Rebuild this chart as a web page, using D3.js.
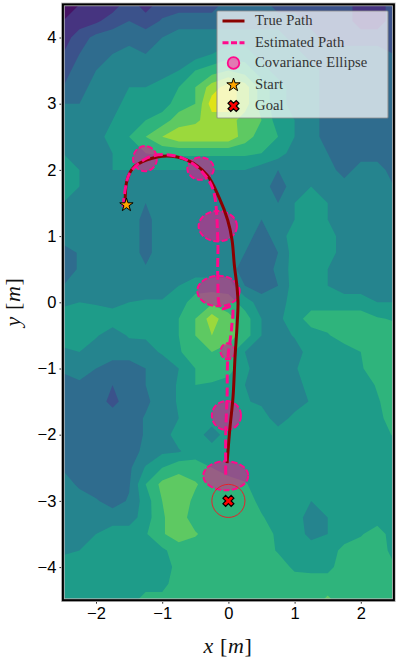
<!DOCTYPE html>
<html>
<head>
<meta charset="utf-8">
<script src="https://cdn.jsdelivr.net/npm/d3@7"></script>
<style>
  html, body { margin: 0; padding: 0; background: #fff; }
  svg { display: block; }
</style>
</head>
<body>
<svg id="chart" width="399" height="659"></svg>
<script>
// ---- data ----
const xTicks = [-2, -1, 0, 1, 2];
const yTicks = [-4, -3, -2, -1, 0, 1, 2, 3, 4];

// terrain field, 0.25 m grid, first row is y = 4.5, first column is x = -2.5
const fieldRows = [
  [0,0.5,1,1,2,1,2,2,2,2,3,3,3,2,2,2,2,2,1,1,2],
  [0.5,1,1.3,2,2.5,2,2.6,3,3,3,3,3,3,3,3,2,2,2,1,1,2],
  [1,2,2.8,3,3,3,3.5,4,4,4,4,4,4,4,3,3,2,2,2,2,2],
  [1.5,2.5,3,3.5,4,3.5,4,4,4,4.5,5,5,4,4,4,3,3,3,3,3,2.5],
  [2,3,3.5,4,4,4,4,4.5,5.5,6,6.5,6,5,4,4,4,3,3,3,3,3],
  [2.5,3,4,4,4.5,4.5,5,5.5,6.5,8,9,8,6,5,4,4,3,3,3,3,3],
  [3.5,3.5,4,4,5,5,5,6,6.5,9,9,8,6,5,4,4,3,3,3,3,3],
  [4,4,4,4.5,5,5.5,6,7,7.3,8,8,7,6.5,5,4.5,4,3,3,3,3,3],
  [4,4,4,5,5.5,6.5,7.5,8.2,8.2,8.2,8.2,7,6,5.5,4.5,4,3,3,3,3,3],
  [4.5,4,4,4.5,5,5.5,5.7,5.7,5.7,5.7,5.7,5.7,5.5,5,4,4,3.5,3,3,3,3],
  [5,4.5,4,4.5,4.5,4.5,4.5,4.5,4.5,4.5,4.5,4.5,4,3.5,4,4,4,3,4,4,3],
  [5,4.5,4,4,4,4,4,4,4,4,4,4,4,3,4,4.5,4,4,4,4,3.5],
  [4.5,4,4,4,4,3.5,4,4,4,4,4,4,4,3.5,4.5,5,4.5,4,4,4,4],
  [4,4,4,4,4,3.2,4,4,4,4,4,4,3.5,4,4.5,5,4.5,4,4,4,4],
  [4,4,4,4,4,3.2,4,4,4,4,4,4,3,4,5,5,5,4,4,4,4],
  [3,3.6,4,4,4,3.2,4,4,4,4,4,3.5,3,3.5,5,5,5,4,4,4,4],
  [3,3.6,4,4,4,3.6,4,4,4,4,4,3,3,3.7,5,5,4.5,4,4,4,4],
  [3.5,4,4,4,4,4,4,4.5,5,5,5,3.5,3,3.5,5,5,4.5,4,4,4,4],
  [4.3,4.5,4.4,4.2,4.5,4.6,4.6,5,6,6.3,6,5,4,4,5,5,5,5,5,4.5,4.5],
  [5,5,5,5,5,5,5,5.5,6.5,8,6.8,6,4.5,4.3,5,6,6,6,6,5.6,5.4],
  [5,5,4.6,4,4.6,4.6,5,5.5,6.5,7.5,7,6,4.5,4,4.6,5,5.4,6,6,6,6],
  [4.3,4.5,4,4,4,4.2,4.6,5.4,6,6.5,6,4.5,4,4,4,5,5,5,5.5,6,6],
  [3.7,4,3.5,3,3,3.5,4,4.5,5.5,6,6,4.7,4,4,4.4,5,5,5,5.4,6,6],
  [3,3.3,3,2.5,3,3.5,4,4.6,5.5,5.4,5,4.5,4,4,4.2,4.8,5,5,5,5.6,6],
  [3,3,3,2.2,3,3.3,4,4.6,5,5,5,4.6,4.3,4,4,4.6,5,5,5,5.4,6],
  [3,3,3,3,3,3.6,4,4.5,5,5,5,5,5,4,4.8,5,5,5,5,5.2,6],
  [3,3,3,3,3,3.6,4,5,5,4,5,5,5,5,5,5,5,5,5,5,5.6],
  [3,3,3,3,3,3.8,4.3,4.4,5,5,5,5,5,5,5,5,5,5,5,5,5],
  [3.4,3,3,3,3.3,4.6,5.5,6.2,6,5.5,5,5,5,5,5,5,5,5,5,5,5],
  [4,3.3,3,3,3.4,5.5,6.8,7,6.6,6,6,5.6,5,5,5,5,5,5,5,5,5],
  [4,4,3.6,3.1,3.6,5,6.5,7,6.3,6,6,6,5.2,5,5,4.5,5,5,5,5,5],
  [4,4,4,4,4,5,6.4,7,6,6,6,6,5.6,5,5,4,4.5,5,5,5,5],
  [4,4,4.5,5,5,5.4,6.4,7,6.6,6,6,6,6,5.3,5,4.2,4.5,5,5.4,6,5],
  [4.3,4.5,5,5,5,5,5.3,6,6,6,6,6,6,5.4,5,5,5,5.8,6,6,5.2],
  [5,5,5,5,5,5,5.2,5.7,6,6,6,6,6,6,5.3,5.2,5.2,6,6,6,5.6],
  [5,5,5,5,5,5,5.2,6,6,6,6,6,6,6,6,6,6,6,6,6,6],
  [5,5,5,5,5,6,5.8,6,6,6,6,6,6,6,6,6,6.7,6,6,6,6]
];

const trueX = [-1.56,-1.53,-1.44,-1.23,-0.93,-0.63,-0.32,-0.14,-0.01,0.055,0.09,0.13,0.145,0.13,0.10,0.07,0.02,-0.02];
const trueY = [1.55,1.85,2.03,2.15,2.21,2.15,1.92,1.58,1.24,0.94,0.56,0.23,-0.01,-0.37,-0.83,-1.43,-1.93,-2.43];

const estX = [-1.59,-1.56,-1.49,-1.23,-0.93,-0.63,-0.38,-0.23,-0.16,-0.16,-0.11,0.05,0.05,-0.01,-0.02,-0.04,-0.04];
const estY = [1.44,1.70,1.95,2.18,2.23,2.15,1.95,1.70,0.94,0.38,-0.09,-0.07,-0.37,-0.87,-1.43,-1.97,-2.64];

// covariance ellipses: centre and half widths in metres
const ellipseX = [-1.26,-0.42,-0.16,-0.15,-0.01,-0.03,-0.04];
const ellipseY = [2.17,2.02,1.15,0.17,-0.74,-1.71,-2.62];
const ellipseRx = [0.18,0.20,0.29,0.32,0.11,0.22,0.34];
const ellipseRy = [0.19,0.17,0.23,0.23,0.12,0.22,0.22];

const startPoint = [-1.54, 1.47];
const goalPoint = [0, -3];
const goalRadius = 0.25;

const legendLabels = ["True Path", "Estimated Path", "Covariance Ellipse", "Start", "Goal"];

// ---- layout ----
const plot = { left: 62.9, right: 393.9, top: 4.4, bottom: 600.2 };
const TRUE_COLOR = "#8b0000";
const EST_COLOR = "#ff0a8c";
const SERIF = "'Liberation Serif', serif";
const SANS = "'Liberation Sans', sans-serif";

const svg = d3.select("#chart");

const x = d3.scaleLinear().domain([-2.5, 2.5]).range([plot.left, plot.right]);
const y = d3.scaleLinear().domain([-4.5, 4.5]).range([plot.bottom, plot.top]);

svg.append("clipPath").attr("id", "plot-clip")
  .append("rect")
  .attr("x", plot.left)
  .attr("y", plot.top)
  .attr("width", plot.right - plot.left)
  .attr("height", plot.bottom - plot.top);

const g = svg.append("g").attr("clip-path", "url(#plot-clip)");

// ---- filled contours ----
const nCols = fieldRows[0].length;
const nRows = fieldRows.length;
const thresholds = [-1, 0.5, 1.5, 2.5, 3.5, 4.5, 5.5, 6.5, 7.5, 8.5];

// d3.contours puts grid value i at coordinate i + 0.5
const colToX = d3.scaleLinear().domain([0.5, nCols - 0.5]).range([-2.5, 2.5]);
const rowToY = d3.scaleLinear().domain([0.5, nRows - 0.5]).range([4.5, -4.5]);

const contours = d3.contours()
  .size([nCols, nRows])
  .smooth(true)
  .thresholds(thresholds)(fieldRows.flat());

const contourPath = d3.geoPath(d3.geoTransform({
  point(cx, cy) {
    this.stream.point(x(colToX(cx)), y(rowToY(cy)));
  }
}));

g.selectAll("path.band")
  .data(contours)
  .enter()
  .append("path")
  .attr("class", "band")
  .attr("d", contourPath)
  .attr("fill", (d, i) => d3.interpolateViridis((i + 0.5) / 10));

// ---- ellipses ----
g.selectAll("ellipse.cov")
  .data(ellipseX)
  .enter()
  .append("ellipse")
  .attr("class", "cov")
  .attr("cx", d => x(d))
  .attr("cy", (d, i) => y(ellipseY[i]))
  .attr("rx", (d, i) => x(ellipseRx[i]) - x(0))
  .attr("ry", (d, i) => y(0) - y(ellipseRy[i]))
  .attr("fill", EST_COLOR)
  .attr("fill-opacity", 0.5)
  .attr("stroke", EST_COLOR)
  .attr("stroke-width", 2)
  .attr("stroke-dasharray", "6,2.5");

// ---- paths ----
const line = d3.line()
  .x(d => x(d[0]))
  .y(d => y(d[1]))
  .curve(d3.curveCatmullRom.alpha(0.5));

g.append("path")
  .datum(d3.zip(trueX, trueY))
  .attr("fill", "none")
  .attr("stroke", TRUE_COLOR)
  .attr("stroke-width", 3)
  .attr("d", line);

g.append("path")
  .datum(d3.zip(estX, estY))
  .attr("fill", "none")
  .attr("stroke", EST_COLOR)
  .attr("stroke-width", 3)
  .attr("stroke-dasharray", "9,4")
  .attr("d", line);

// ---- start and goal ----
const starPath = d3.symbol().type(d3.symbolStar).size(55)();
const crossPath = d3.symbol().type(d3.symbolCross).size(75)();

g.append("circle")
  .attr("cx", x(goalPoint[0]))
  .attr("cy", y(goalPoint[1]))
  .attr("r", x(goalRadius) - x(0))
  .attr("fill", "none")
  .attr("stroke", "#e8202a")
  .attr("stroke-width", 1);

g.append("path")
  .attr("d", starPath)
  .attr("transform", `translate(${x(startPoint[0])},${y(startPoint[1])})`)
  .attr("fill", "#ffa500")
  .attr("stroke", "#000")
  .attr("stroke-width", 1);

g.append("path")
  .attr("d", crossPath)
  .attr("transform", `translate(${x(goalPoint[0])},${y(goalPoint[1])}) rotate(45)`)
  .attr("fill", "#ff0000")
  .attr("stroke", "#000")
  .attr("stroke-width", 1.2);

// ---- axes ----
const xAxis = svg.append("g")
  .attr("transform", `translate(0,${plot.bottom})`)
  .call(d3.axisBottom(x).tickValues(xTicks).tickSize(3.5).tickPadding(4).tickFormat(d3.format("d")));

const yAxis = svg.append("g")
  .attr("transform", `translate(${plot.left},0)`)
  .call(d3.axisLeft(y).tickValues(yTicks).tickSize(3.5).tickPadding(3).tickFormat(d3.format("d")));

[xAxis, yAxis].forEach(axis => {
  axis.select(".domain").remove();
  axis.selectAll("line").attr("stroke", "#000").attr("stroke-width", 0.8);
  axis.selectAll("text")
    .style("font-family", SANS)
    .style("font-size", "16.5px")
    .attr("fill", "#000");
});

// spines, with the faint grey edge the picture has around them
svg.append("rect")
  .attr("x", plot.left)
  .attr("y", plot.top)
  .attr("width", plot.right - plot.left)
  .attr("height", plot.bottom - plot.top)
  .attr("fill", "none")
  .attr("stroke", "#bbb")
  .attr("stroke-width", 3.6);

svg.append("rect")
  .attr("x", plot.left)
  .attr("y", plot.top)
  .attr("width", plot.right - plot.left)
  .attr("height", plot.bottom - plot.top)
  .attr("fill", "none")
  .attr("stroke", "#000")
  .attr("stroke-width", 2);

// axis titles
function axisTitle(sel, name) {
  sel.style("font-family", SERIF)
    .style("font-size", "22px")
    .style("letter-spacing", "0.6px")
    .attr("fill", "#111")
    .attr("text-anchor", "middle");
  sel.append("tspan").style("font-style", "italic").text(name);
  sel.append("tspan").text(" [");
  sel.append("tspan").style("font-style", "italic").text("m");
  sel.append("tspan").text("]");
}

svg.append("text")
  .attr("x", 228)
  .attr("y", 653)
  .call(axisTitle, "x");

svg.append("text")
  .attr("transform", "translate(20,302) rotate(-90)")
  .call(axisTitle, "y");

// ---- legend ----
const legend = svg.append("g");
const legendRows = [21, 42.7, 63, 85, 106];
const handleX = 233.5;

legend.append("rect")
  .attr("x", 217)
  .attr("y", 11)
  .attr("width", 171)
  .attr("height", 107)
  .attr("rx", 1)
  .attr("fill", "#fff")
  .attr("fill-opacity", 0.72)
  .attr("stroke", "#8c8c8c")
  .attr("stroke-opacity", 0.8)
  .attr("stroke-width", 1.2);

legend.append("line")
  .attr("x1", handleX - 11).attr("x2", handleX + 11)
  .attr("y1", legendRows[0]).attr("y2", legendRows[0])
  .attr("stroke", TRUE_COLOR)
  .attr("stroke-width", 3);

legend.append("line")
  .attr("x1", handleX - 11).attr("x2", handleX + 11)
  .attr("y1", legendRows[1]).attr("y2", legendRows[1])
  .attr("stroke", EST_COLOR)
  .attr("stroke-width", 3)
  .attr("stroke-dasharray", "6,2.5");

legend.append("circle")
  .attr("cx", handleX)
  .attr("cy", legendRows[2])
  .attr("r", 5.8)
  .attr("fill", EST_COLOR)
  .attr("fill-opacity", 0.5)
  .attr("stroke", EST_COLOR)
  .attr("stroke-width", 1.8);

legend.append("path")
  .attr("d", starPath)
  .attr("transform", `translate(${handleX},${legendRows[3]})`)
  .attr("fill", "#ffa500")
  .attr("stroke", "#000")
  .attr("stroke-width", 1);

legend.append("path")
  .attr("d", crossPath)
  .attr("transform", `translate(${handleX},${legendRows[4]}) rotate(45)`)
  .attr("fill", "#ff0000")
  .attr("stroke", "#000")
  .attr("stroke-width", 1.2);

legend.selectAll("text")
  .data(legendLabels)
  .enter()
  .append("text")
  .attr("x", 255)
  .attr("y", (d, i) => legendRows[i] + 4.3)
  .style("font-family", SERIF)
  .style("font-size", "14.6px")
  .style("letter-spacing", "0.1px")
  .attr("fill", "#333")
  .text(d => d);
</script>
</body>
</html>
